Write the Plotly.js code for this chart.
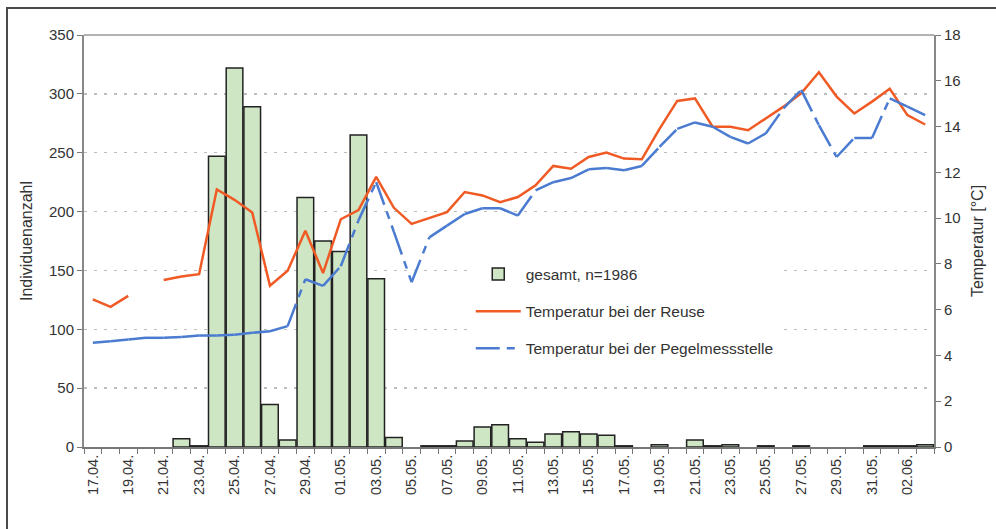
<!DOCTYPE html>
<html>
<head>
<meta charset="utf-8">
<script src="https://cdn.plot.ly/plotly-3.0.1.min.js"></script>
<style>
  html, body { margin: 0; padding: 0; background: #fff; overflow: hidden; }
  #wrap { position: relative; width: 996px; height: 529px; overflow: hidden; }
  #chart { position: absolute; left: 0; top: 0; width: 996px; height: 529px; }
  #frame { position: absolute; left: 6px; top: 7px; width: 1200px; height: 1200px;
           border-left: 2px solid #4a4a4a; border-top: 2px solid #4a4a4a; pointer-events: none; }
</style>
</head>
<body>
<div id="wrap">
  <div id="chart"></div>
  <div id="frame"></div>
</div>
<script>
const dates = [
  "17.04.","18.04.","19.04.","20.04.","21.04.","22.04.","23.04.","24.04.","25.04.","26.04.",
  "27.04.","28.04.","29.04.","30.04.","01.05.","02.05.","03.05.","04.05.","05.05.","06.05.",
  "07.05.","08.05.","09.05.","10.05.","11.05.","12.05.","13.05.","14.05.","15.05.","16.05.",
  "17.05.","18.05.","19.05.","20.05.","21.05.","22.05.","23.05.","24.05.","25.05.","26.05.",
  "27.05.","28.05.","29.05.","30.05.","31.05.","01.06.","02.06.","03.06."
];
const counts = [
  0, 0, 0, 0, 0, 7, 1, 247, 322, 289,
  36, 6, 212, 175, 166, 265, 143, 8, 0, 1,
  1, 5, 17, 19, 7, 4, 11, 13, 11, 10,
  1, 0, 2, 0, 6, 1, 2, 0, 1, 0,
  1, 0, 0, 0, 1, 1, 1, 2
];
const tempReuse = [
  6.45, 6.12, 6.6, null, 7.3, 7.45, 7.55, 11.25, 10.8, 10.25,
  7.05, 7.7, 9.45, 7.6, 9.95, 10.35, 11.8, 10.45, 9.75, 10.0,
  10.26, 11.14, 10.99, 10.7, 10.92, 11.43, 12.28, 12.16, 12.67, 12.86,
  12.6, 12.57, 13.9, 15.12, 15.23, 13.99, 13.99, 13.84, 14.35, 14.87,
  15.45, 16.37, 15.31, 14.57, 15.09, 15.65, 14.5, 14.09
];
const tempPegel = [
  4.55, 4.62, 4.7, 4.77, 4.77, 4.81, 4.87, 4.87, 4.9, 4.99,
  5.06, 5.28, 7.33, 7.04, 7.9, 9.9, 11.57, 9.4, 7.2, 9.16,
  9.67, 10.18, 10.43, 10.43, 10.11, 11.21, 11.57, 11.75, 12.13, 12.19,
  12.09, 12.28, 13.11, 13.9, 14.18, 13.99, 13.55, 13.26, 13.7, 14.79,
  15.6, 14.06, 12.67, 13.5, 13.5, 15.23, 14.87, 14.5
];
const tickLabels = dates.map((d, i) => (i % 2 === 0 ? d : ""));
const seriesNames = ["gesamt, n=1986", "Temperatur bei der Reuse", "Temperatur bei der Pegelmessstelle"];

const FONT = "'Liberation Sans', Arial, sans-serif";
const TXT = "#333333";
const BAR_FILL = "#cfe6c5", BAR_EDGE = "#222222";

const traces = [];
// bars (zero days drawn without outline)
traces.push({
  type: "bar", x: dates, y: counts, name: seriesNames[0], legendgroup: "g1", showlegend: false,
  marker: { color: BAR_FILL, line: { color: BAR_EDGE, width: counts.map(v => (v > 0 ? 1.5 : 0)) } },
  hoverinfo: "x+y"
});
// legend entry for the bars
traces.push({
  type: "bar", x: [dates[0]], y: [null], name: seriesNames[0], legendgroup: "g1", showlegend: true,
  marker: { color: BAR_FILL, line: { color: BAR_EDGE, width: 1.5 } },
  hoverinfo: "skip"
});
traces.push({
  type: "scatter", mode: "lines", x: dates, y: tempReuse, yaxis: "y2",
  name: seriesNames[1], legendgroup: "g2", connectgaps: false,
  line: { color: "#f05a24", width: 2.5 }
});
for (let i = 0; i < dates.length - 1; i++) {
  if (tempPegel[i] == null || tempPegel[i + 1] == null) continue;
  traces.push({
    type: "scatter", mode: "lines", x: [dates[i], dates[i + 1]], y: [tempPegel[i], tempPegel[i + 1]],
    yaxis: "y2", name: seriesNames[2], legendgroup: "g3", showlegend: i === 0,
    line: { color: "#4a7bd0", width: 2.5, dash: "24px,7px,8px,7px" },
    hoverinfo: "skip"
  });
}

const layout = {
  width: 996, height: 529,
  margin: { l: 84, r: 62, t: 35, b: 82, pad: 0 },
  paper_bgcolor: "#ffffff", plot_bgcolor: "#ffffff",
  font: { family: FONT, size: 15, color: TXT },
  barmode: "overlay",
  bargap: 0.06,
  showlegend: true,
  legend: {
    x: 0.455, y: 0.46, xanchor: "left", yanchor: "top",
    bgcolor: "#ffffff", borderwidth: 0,
    font: { family: FONT, size: 15.5, color: TXT },
    traceorder: "grouped", tracegroupgap: 14, itemwidth: 45
  },
  xaxis: {
    type: "category", categoryorder: "array", categoryarray: dates,
    range: [-0.5, dates.length - 0.5],
    tickmode: "array", tickvals: dates, ticktext: tickLabels,
    tickangle: -90, tickson: "boundaries", ticks: "outside", ticklen: 5, tickcolor: "#777",
    tickfont: { family: FONT, size: 14.5, color: TXT },
    showline: true, linecolor: "#777", linewidth: 2,
    showgrid: false, zeroline: false, automargin: false, fixedrange: true
  },
  yaxis: {
    range: [0, 350], dtick: 50, tick0: 0,
    ticks: "outside", ticklen: 5, tickcolor: "#777",
    tickfont: { family: FONT, size: 15, color: TXT },
    showline: true, linecolor: "#888", linewidth: 2,
    showgrid: true, gridcolor: "#bdbdbd", griddash: "3px,7px", gridwidth: 1.5,
    zeroline: false, automargin: false, fixedrange: true,
    title: { text: "Individuenanzahl", font: { family: FONT, size: 16, color: TXT }, standoff: 12 }
  },
  yaxis2: {
    overlaying: "y", side: "right", range: [0, 18], dtick: 2, tick0: 0,
    ticks: "outside", ticklen: 5, tickcolor: "#777",
    tickfont: { family: FONT, size: 15, color: TXT },
    showline: true, linecolor: "#888", linewidth: 2,
    showgrid: false, zeroline: false, automargin: false, fixedrange: true,
    title: { text: "Temperatur [°C]", font: { family: FONT, size: 16, color: TXT }, standoff: 12 }
  },
  shapes: [
    { type: "line", xref: "paper", yref: "paper", x0: 0, x1: 1, y0: 1, y1: 1,
      line: { color: "#9a9a9a", width: 1.5 } }
  ]
};

Plotly.newPlot("chart", traces, layout, { staticPlot: true, displayModeBar: false });
</script>
</body>
</html>
